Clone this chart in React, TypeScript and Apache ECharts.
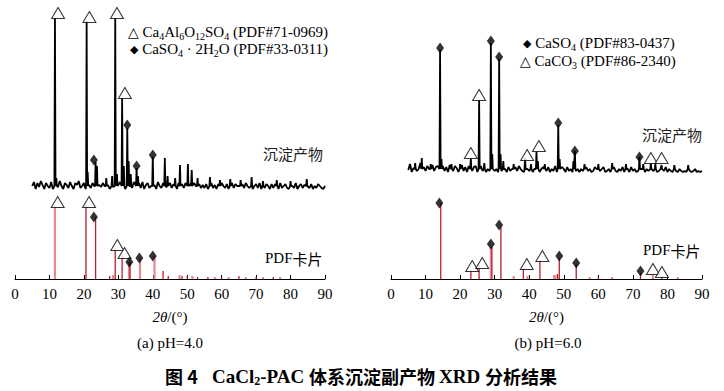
import React, { useEffect, useRef } from "react";
import * as echarts from "echarts";

// ---------- DATA ----------
const xTicks = [0, 10, 20, 30, 40, 50, 60, 70, 80, 90];

// baseline noise of measured patterns, 5.0° .. 90.0° step 0.5°
const noiseStart = 5;
const noiseStep = 0.5;
const noiseA = [
  4, 8, 1, 7, 3, 9, 5, 1, 7, 4, 2, 8, 1, 5, 7, 3, 9, 4, 1, 7,
  5, 2, 8, 4, 1, 7, 5, 9, 2, 4, 7, 1, 8, 5, 2, 7, 4, 8, 1, 5,
  3, 7, 4, 8, 5, 1, 7, 3, 9, 4, 5, 8, 2, 7, 1, 5, 4, 7, 2, 8,
  5, 3, 7, 2, 8, 1, 5, 7, 2, 4, 7, 5, 1, 8, 4, 2, 7, 5, 3, 2,
  7, 2, 6, 4, 1, 7, 3, 6, 2, 7, 1, 4, 6, 2, 7, 4, 1, 6, 2, 5,
  2, 6, 1, 4, 7, 2, 5, 1, 6, 3, 7, 4, 2, 6, 1, 4, 7, 2, 6, 4,
  4, 1, 6, 2, 7, 4, 2, 6, 1, 4, 6, 2, 7, 1, 4, 2, 6, 4, 1, 6,
  2, 6, 4, 1, 7, 2, 4, 6, 2, 1, 6, 4, 2, 7, 1, 4, 6, 2, 5, 1,
  4, 2, 6, 1, 4, 2, 6, 4, 2, 1, 4,
];
const noiseB = [
  3, 9, 1, 5, 8, 2, 4, 10, 1, 6, 2, 7, 4, 1, 8, 2, 6, 7, 1, 4,
  7, 2, 6, 1, 8, 4, 2, 7, 5, 1, 4, 8, 2, 6, 1, 7, 4, 2, 6, 7,
  1, 4, 7, 2, 6, 1, 4, 2, 7, 5, 2, 4, 1, 6, 2, 7, 4, 1, 6, 2,
  4, 1, 6, 2, 7, 4, 2, 1, 6, 4, 2, 7, 1, 4, 6, 2, 1, 4, 6, 2,
  2, 6, 1, 4, 2, 7, 1, 4, 2, 6, 4, 1, 6, 2, 4, 1, 6, 2, 4, 1,
  4, 2, 1, 6, 2, 4, 1, 2, 6, 4, 1, 2, 4, 6, 1, 2, 4, 1, 2, 6,
  2, 1, 4, 2, 6, 1, 2, 4, 1, 6, 2, 4, 1, 2, 6, 4, 2, 1, 4, 2,
  1, 4, 2, 6, 1, 2, 4, 1, 2, 6, 1, 4, 2, 1, 4, 2, 1, 4, 2, 1,
  2, 1, 4, 2, 1, 2, 4, 1, 2, 1, 2,
];

// measured peaks [2θ, intensity above baseline]
const peaksA = [
  [11.6, 168], [12.0, 8], [20.8, 165], [21.1, 14], [23.4, 24], [23.8, 20], [26.5, 8],
  [28.2, 10], [29.1, 168], [29.6, 12], [31.1, 88], [31.6, 20], [32.6, 58], [33.0, 25],
  [33.6, 12], [35.3, 18], [35.7, 10], [40.0, 29], [43.5, 28], [44.3, 10], [46.5, 8],
  [47.9, 21], [50.2, 22], [51.3, 16], [53.0, 8], [56.6, 9], [59.5, 6], [62.5, 7],
  [65.5, 6], [68.7, 9], [72.0, 5], [76.0, 6], [80.0, 5], [84.7, 7],
];
const peaksB = [
  [7.0, 6], [8.9, 11], [11.5, 5], [14.2, 119], [14.6, 10], [17.5, 5], [20.0, 5],
  [23.1, 11], [25.5, 69], [27.0, 6], [28.9, 126], [29.3, 15], [31.3, 110], [31.7, 15],
  [32.5, 8], [35.5, 5], [38.8, 11], [40.5, 5], [42.1, 17], [42.5, 8], [44.5, 5],
  [48.4, 44], [48.8, 10], [52.8, 8], [53.2, 18], [56.0, 5], [60.0, 5], [64.0, 6],
  [68.0, 5], [71.9, 12], [73.0, 5], [75.2, 6], [76.5, 5], [78.3, 4], [82.0, 4], [86.0, 4],
];

// markers on measured patterns [2θ, height above baseline]
const triTopA = [[12.5, 173], [21.6, 169], [29.6, 173], [31.9, 93]];
const diaTopA = [[22.9, 26], [32.6, 61], [35.3, 20], [40.0, 31]];
const triTopB = [[23.1, 16], [25.5, 74], [39.4, 14], [42.8, 23], [75.2, 11], [78.3, 11]];
const diaTopB = [[14.2, 121], [28.9, 128], [31.3, 112], [48.4, 46], [53.2, 18], [71.9, 12]];

// PDF card sticks [2θ, intensity, strong(1)/light(0)]
const pdfA = [
  [11.6, 74, 0], [20.6, 74, 1], [23.4, 62, 1], [27.5, 3, 1], [28.5, 4, 0], [29.1, 31, 1],
  [31.1, 24, 1], [33.1, 17, 0], [33.4, 17, 1], [36.3, 21, 0], [40.5, 23, 0], [43.0, 8, 1],
  [44.5, 3, 1], [47.8, 4, 0], [48.5, 3, 1], [50.0, 3, 1], [51.5, 3, 0], [53.0, 2, 1],
  [56.0, 2, 1], [58.0, 2, 0], [60.0, 2, 1], [62.0, 2, 0], [65.0, 3, 1], [67.0, 2, 0],
  [70.0, 2, 1], [72.0, 2, 0], [75.0, 2, 1], [77.0, 2, 0],
];
const pdfB = [
  [14.4, 76, 1], [23.1, 9, 1], [25.5, 14, 1], [28.9, 32, 0], [29.2, 32, 1], [31.8, 52, 1],
  [35.5, 3, 0], [38.3, 11, 1], [39.5, 3, 0], [43.1, 19, 1], [47.2, 4, 0], [47.6, 4, 0],
  [48.2, 5, 1], [48.7, 21, 1], [53.6, 15, 1], [57.5, 2, 0], [60.0, 2, 1], [64.0, 2, 0],
  [72.2, 6, 1], [75.8, 4, 0], [78.4, 3, 1], [83.0, 2, 0],
];

// markers on PDF cards [2θ, height]
const triPdfA = [[12.4, 77], [21.5, 77], [29.7, 34], [31.8, 26]];
const diaPdfA = [[22.9, 62], [33.2, 17], [36.1, 21], [40.0, 23]];
const triPdfB = [[23.5, 13], [26.4, 16], [39.3, 15], [43.8, 23], [75.8, 10], [78.4, 7]];
const diaPdfB = [[14.0, 76], [28.9, 35], [31.3, 54], [48.7, 23], [53.6, 16], [72.2, 8]];

// ---------- LAYOUT ----------
const BASE_A = 93; // measured-pattern baseline level (left)
const BASE_B = 110; // measured-pattern baseline level (right)
const NOISE_MID = 4;
const PEAK_HALF = 0.16;
const SERIF = "Liberation Serif, Times New Roman, serif";
const CJK = "Noto Sans CJK SC, sans-serif";

function buildTrace(noise: number[], peaks: number[][], base: number) {
  const pts: number[][] = [];
  noise.forEach((n, i) => {
    const x = noiseStart + i * noiseStep;
    if (peaks.some((p) => Math.abs(p[0] - x) < PEAK_HALF * 1.5)) return;
    pts.push([x, base - NOISE_MID + n]);
  });
  peaks.forEach(([x, h]) => {
    pts.push([x - PEAK_HALF, base]);
    pts.push([x, base + h]);
    pts.push([x + PEAK_HALF, base]);
  });
  pts.sort((a, b) => a[0] - b[0]);
  return pts;
}

const lift = (arr: number[][], base: number) => arr.map(([x, y]) => [x, base + y]);

function panelSeries(
  idx: number,
  noise: number[],
  peaks: number[][],
  base: number,
  pdf: number[][],
  triTop: number[][],
  diaTop: number[][],
  triPdf: number[][],
  diaPdf: number[][]
) {
  return [
    {
      type: "custom",
      xAxisIndex: idx,
      yAxisIndex: idx,
      encode: { x: 0, y: 1 },
      data: pdf,
      z: 2,
      renderItem: (params: any, api: any) => {
        const x = api.value(0);
        const h = api.value(1);
        const strong = api.value(2) === 1;
        const p0 = api.coord([x, 0]);
        const p1 = api.coord([x, h]);
        return {
          type: "line",
          shape: { x1: p0[0], y1: p0[1], x2: p1[0], y2: p1[1] },
          style: { stroke: strong ? "#b8202e" : "#e58a95", lineWidth: strong ? 1.3 : 2.2 },
        };
      },
    },
    {
      type: "line",
      xAxisIndex: idx,
      yAxisIndex: idx,
      data: buildTrace(noise, peaks, base),
      showSymbol: false,
      symbol: "none",
      lineStyle: { color: "#000", width: 1.8 },
      z: 3,
    },
    {
      type: "scatter",
      xAxisIndex: idx,
      yAxisIndex: idx,
      data: [...lift(triTop, base), ...triPdf],
      symbol: "triangle",
      symbolSize: [13, 11],
      itemStyle: { color: "#fff", borderColor: "#000", borderWidth: 1 },
      z: 5,
    },
    {
      type: "scatter",
      xAxisIndex: idx,
      yAxisIndex: idx,
      data: [...lift(diaTop, base), ...diaPdf],
      symbol: "diamond",
      symbolSize: [8, 11],
      itemStyle: { color: "#000" },
      z: 5,
    },
  ];
}

function xAxisCfg(idx: number) {
  return {
    type: "value",
    gridIndex: idx,
    min: 0,
    max: 90,
    interval: 10,
    name: "{i|2θ}/(°)",
    nameLocation: "middle",
    nameGap: 30,
    nameTextStyle: {
      fontFamily: SERIF,
      fontSize: 15,
      color: "#000",
      rich: { i: { fontStyle: "italic", fontFamily: SERIF, fontSize: 15, color: "#000" } },
    },
    axisLine: { show: true, onZero: false, lineStyle: { color: "#000", width: 1 } },
    axisTick: { show: true, inside: true, length: 4, lineStyle: { color: "#000" } },
    axisLabel: {
      show: true,
      margin: 7,
      fontFamily: SERIF,
      fontSize: 15,
      color: "#000",
      formatter: (v: number) => (xTicks.includes(v) ? String(v) : ""),
    },
    splitLine: { show: false },
  };
}

function yAxisCfg(idx: number) {
  return { type: "value", gridIndex: idx, min: 0, max: 269, show: false, splitLine: { show: false } };
}

const richBase = {
  m: { fontFamily: SERIF, fontSize: 15, color: "#000", lineHeight: 18 },
  s: { fontFamily: SERIF, fontSize: 10, color: "#000", lineHeight: 10, verticalAlign: "bottom" },
  t: { fontFamily: "DejaVu Sans", fontSize: 14, color: "#000", lineHeight: 18 },
  d: { fontFamily: "DejaVu Sans", fontSize: 11, color: "#000", lineHeight: 18 },
};

function txt(x: number, y: number, text: string, extra: any = {}) {
  return {
    type: "text",
    x,
    y,
    style: {
      text,
      fontFamily: SERIF,
      fontSize: 15,
      fill: "#000",
      verticalAlign: "middle",
      align: "left",
      rich: richBase,
      ...extra,
    },
  };
}

export default function App() {
  const ref = useRef<HTMLDivElement>(null);
  useEffect(() => {
    if (!ref.current) return;
    const chart = echarts.init(ref.current, undefined, { renderer: "svg" });
    chart.setOption({
      animation: false,
      backgroundColor: "#fff",
      grid: [
        { left: 15, width: 310, top: 10, bottom: 112, containLabel: false },
        { left: 391, width: 311, top: 10, bottom: 112, containLabel: false },
      ],
      xAxis: [xAxisCfg(0), xAxisCfg(1)],
      yAxis: [yAxisCfg(0), yAxisCfg(1)],
      series: [
        ...panelSeries(0, noiseA, peaksA, BASE_A, pdfA, triTopA, diaTopA, triPdfA, diaPdfA),
        ...panelSeries(1, noiseB, peaksB, BASE_B, pdfB, triTopB, diaTopB, triPdfB, diaPdfB),
      ],
      graphic: [
        txt(128, 32, "{t|△}{m| Ca}{s|4}{m|Al}{s|6}{m|O}{s|12}{m|SO}{s|4}{m| (PDF#71-0969)}"),
        txt(130, 49, "{d|◆}{m| CaSO}{s|4}{m| · 2H}{s|2}{m|O (PDF#33-0311)}"),
        txt(523, 43, "{d|◆}{m| CaSO}{s|4}{m| (PDF#83-0437)}"),
        txt(520, 61, "{t|△}{m| CaCO}{s|3}{m| (PDF#86-2340)}"),
        txt(263, 153, "沉淀产物", { fontFamily: CJK, fontSize: 15, fill: "#222" }),
        txt(642, 134, "沉淀产物", { fontFamily: CJK, fontSize: 15, fill: "#222" }),
        txt(265, 258, "{m|PDF}{c|卡片}", {
          rich: { ...richBase, c: { fontFamily: CJK, fontSize: 15, color: "#222", lineHeight: 18 } },
        }),
        txt(643, 250, "{m|PDF}{c|卡片}", {
          rich: { ...richBase, c: { fontFamily: CJK, fontSize: 15, color: "#222", lineHeight: 18 } },
        }),
        txt(170, 343, "(a) pH=4.0", { align: "center", fontSize: 15 }),
        txt(548, 343, "(b) pH=6.0", { align: "center", fontSize: 15 }),
        txt(
          361,
          376,
          "{c|图 4}{l|   CaCl}{ls|2}{l|-PAC }{c|体系沉淀副产物 }{l|XRD }{c|分析结果}",
          {
            align: "center",
            rich: {
              c: { fontFamily: CJK, fontSize: 18, fontWeight: "bold", color: "#000", lineHeight: 22 },
              l: { fontFamily: SERIF, fontSize: 19, fontWeight: "bold", color: "#000", lineHeight: 22 },
              ls: {
                fontFamily: SERIF,
                fontSize: 12,
                fontWeight: "bold",
                color: "#000",
                lineHeight: 13,
                verticalAlign: "bottom",
              },
            },
          }
        ),
      ],
    });
    return () => chart.dispose();
  }, []);
  return (
    <div
      ref={ref}
      style={{ position: "fixed", left: 0, top: 0, width: 724, height: 391, background: "#fff" }}
    />
  );
}
